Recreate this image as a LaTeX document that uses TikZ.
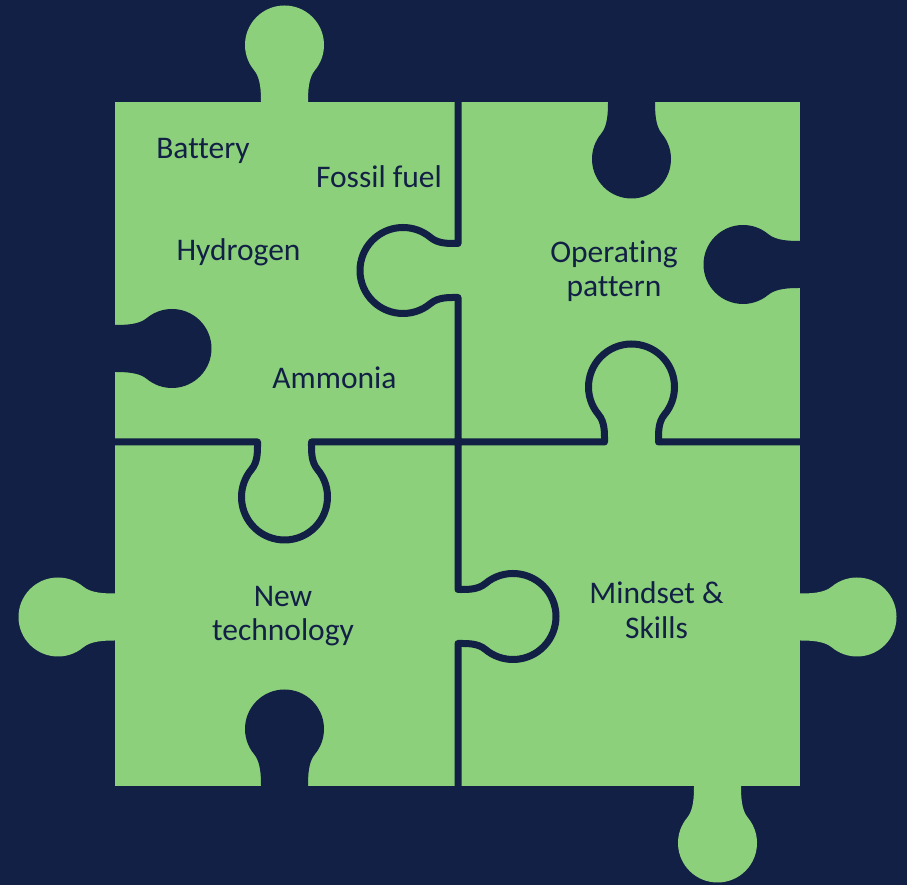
\documentclass[tikz,border=0pt]{standalone}
\usepackage{fontspec}
\setmainfont{Carlito}[Ligatures=CommonOff]
\definecolor{navy}{RGB}{18,32,69}
\definecolor{pgreen}{RGB}{140,208,123}
\tikzset{
  knobshape/.pic={
    \path[pic actions] (-23.5,-4) -- (-23.5,0) .. controls (-23.5,10) and (-23.83,23.95) .. (-30.26,31.61)
      arc[start angle=220,end angle=-40,radius=39.5]
      .. controls (23.83,23.95) and (23.5,10) .. (23.5,0) -- (23.5,-4) -- cycle;
  },
  divider/.style={draw=navy,line width=7pt,line join=round},
  lbl/.style={text=navy,font=\fontsize{31.5}{35}\selectfont,anchor=base,inner sep=0pt}
}
\begin{document}
\begin{tikzpicture}[x=1pt,y=1pt]
\fill[navy] (0,0) rectangle (907,885);
\useasboundingbox (0,0) rectangle (907,885);
% green square
\fill[pgreen] (115,99) rectangle (800,783);
% outer knobs (green)
\pic[fill=pgreen] at (284.5,783) {knobshape};
\pic[fill=pgreen,rotate=90] at (115,268) {knobshape};
\pic[fill=pgreen,rotate=-90] at (800,268) {knobshape};
\pic[fill=pgreen,rotate=180] at (717.5,99) {knobshape};
% holes (navy)
\pic[fill=navy,rotate=-90] at (115,536.5) {knobshape};
\pic[fill=navy,rotate=180] at (631.5,783) {knobshape};
\pic[fill=navy,rotate=90] at (800,620.5) {knobshape};
\pic[fill=navy] at (284.5,99) {knobshape};
% dividers
\begin{scope}[shift={(458,614.5)},rotate=90]
\draw[divider] (-175,0) -- (-27,0) .. controls (-27,9) and (-26.5,19.7) .. (-32.94,27.36)
  arc[start angle=220,end angle=-40,radius=43] .. controls (26.5,19.7) and (27,9) .. (27,0) -- (175,0);
\end{scope}
\begin{scope}[shift={(458,268.5)},rotate=-90]
\draw[divider] (-178,0) -- (-27,0) .. controls (-27,9) and (-26.5,19.7) .. (-32.94,27.36)
  arc[start angle=220,end angle=-40,radius=43] .. controls (26.5,19.7) and (27,9) .. (27,0) -- (175,0);
\end{scope}
\begin{scope}[shift={(284.5,443)},rotate=180]
\draw[divider] (-177,0) -- (-27,0) .. controls (-27,9) and (-26.5,19.7) .. (-32.94,27.36)
  arc[start angle=220,end angle=-40,radius=43] .. controls (26.5,19.7) and (27,9) .. (27,0) -- (175,0);
\end{scope}
\begin{scope}[shift={(631.5,443)}]
\draw[divider] (-177,0) -- (-27,0) .. controls (-27,9) and (-26.5,19.7) .. (-32.94,27.36)
  arc[start angle=220,end angle=-40,radius=43] .. controls (26.5,19.7) and (27,9) .. (27,0) -- (175,0);
\end{scope}
% labels
\node[lbl] (battery) at (203,726) {Battery};
\node[lbl] (fossil) at (379,697) {Fossil fuel};
\node[lbl] (hydrogen) at (238.5,624) {Hydrogen};
\node[lbl] (ammonia) at (334.5,496) {Ammonia};
\node[lbl] (oper1) at (614,622) {Operating};
\node[lbl] (oper2) at (614,588) {pattern};
\node[lbl] (new1) at (283,278) {New};
\node[lbl] (new2) at (283,244) {technology};
\node[lbl] (mind1) at (656.5,281) {Mindset \&};
\node[lbl] (mind2) at (656.5,246) {Skills};
\end{tikzpicture}
\end{document}
